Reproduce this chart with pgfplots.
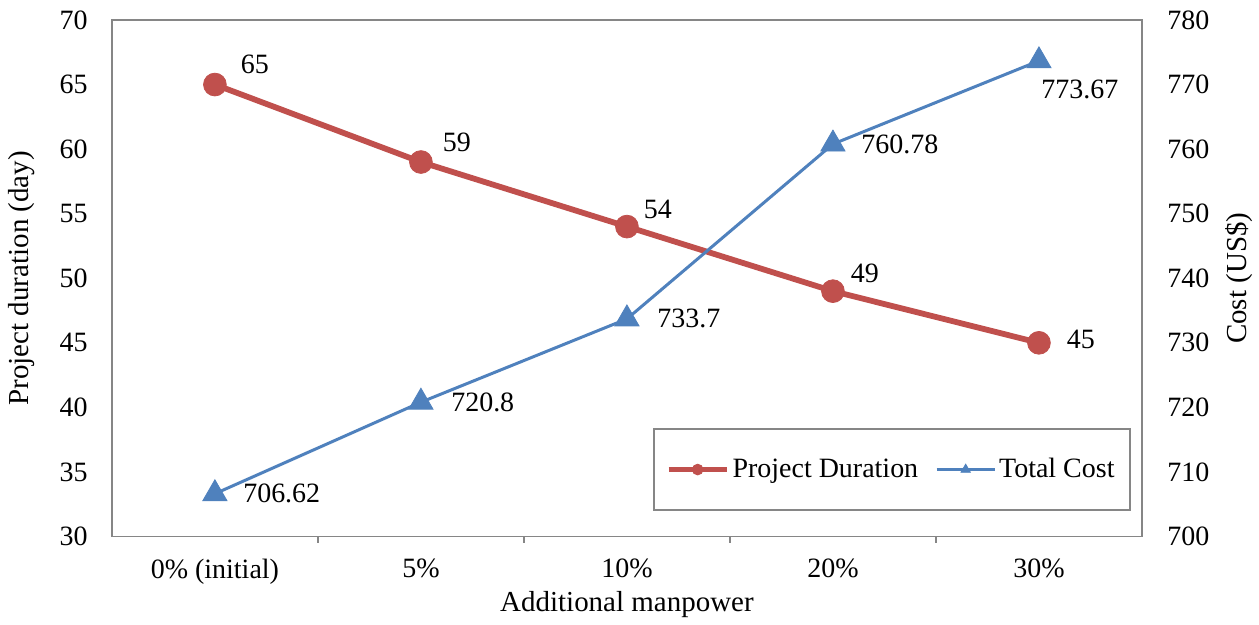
\documentclass[border=0pt]{standalone}
\usepackage{pgfplots}
\usepackage{pgfplotstable}
\usepackage{fontspec}
\setmainfont{Liberation Serif}
\pgfplotsset{compat=1.18}
\definecolor{dur}{RGB}{192,80,77}
\definecolor{cost}{RGB}{79,129,189}
\definecolor{axgray}{RGB}{134,134,134}

\pgfplotstableread{
x y lab dx dy
0 65 65 20 10
1 59 59 18 10
2 54 54 15.5 8.5
3 49 49 16 9
4 45 45 21 1.5
}\durtab

\pgfplotstableread{
x y lab dx dy
0 706.62 706.62 14 0
1 720.8 720.8 15 0
2 733.7 733.7 15 0
3 760.78 760.78 14 0
4 773.67 773.67 1 -14.5
}\costtab

\pgfplotsset{
  myax/.style={scale only axis, width=515.5pt, height=258.5pt,
    xmin=-0.5, xmax=4.5, at={(0,0)}, anchor=south west,
    /pgf/number format/assume math mode=true,
    axis line style={axgray, line width=0.8pt},
    every tick/.style={axgray, line width=0.8pt},
    major tick length=0pt,
    tick label style={font=\fontsize{14}{16}\selectfont, text=black},
    label style={font=\fontsize{14.5}{17}\selectfont, text=black},
  },
}

\begin{document}
\begin{tikzpicture}
\begin{axis}[myax,
  ymin=30, ymax=70, ytick={30,35,...,70},
  xtick={0,...,4}, xticklabels={0\% (initial),5\%,10\%,20\%,30\%},
  minor xtick={0.5,1.5,2.5,3.5},
  minor tick length=3pt, tick align=outside, xtick pos=left, ytick pos=left,
  xticklabel style={inner sep=0pt, yshift=-11pt, anchor=north},
  yticklabel style={inner sep=0pt, xshift=-12pt, anchor=east},
  xlabel={Additional manpower}, ylabel={Project duration (day)},
  xlabel style={at={(axis description cs:0.5,-0.1315)}, anchor=center},
  ylabel style={at={(axis description cs:-0.0873,0.5)}, anchor=center},
]
\addplot[dur, line width=2.9pt, mark=*, mark size=5.7pt,
  mark options={solid, fill=dur, draw=dur, line width=0.4pt},
  nodes near coords, point meta=explicit symbolic,
  visualization depends on={\thisrow{dx}\as\dx},
  visualization depends on={\thisrow{dy}\as\dy},
  every node near coord/.append style={anchor=center, xshift=\dx, yshift=\dy,
      text=black, font=\fontsize{14}{16}\selectfont, inner sep=0pt}]
  table[x=x, y=y, meta=lab]{\durtab};
\end{axis}
\begin{axis}[myax,
  axis x line=none, axis y line*=right,
  ymin=700, ymax=780, ytick={700,710,...,780},
  yticklabel style={inner sep=0pt, xshift=12.5pt, anchor=west},
  ylabel={Cost (US\$)},
  ylabel style={at={(axis description cs:1.094,0.5)}, anchor=center},
  legend columns=2,
  legend style={at={(axis description cs:0.757,0.1296)}, anchor=center,
    draw=axgray, line width=1pt, fill=white,
    inner xsep=6pt, inner ysep=12.5pt,
    font=\fontsize{14}{16}\selectfont,
    nodes={inner xsep=1.5pt, inner ysep=2pt},
    /tikz/every even column/.append style={column sep=7pt},
    cells={anchor=west}},
  legend image code/.code={\draw[mark repeat=2, mark phase=2, #1, mark size=2.7pt]
     plot coordinates {(0pt,0pt) (14.5pt,0pt) (29pt,0pt)};},
]
\addlegendimage{dur, line width=2.9pt, mark=*, mark options={solid, fill=dur, draw=dur, line width=0.4pt}}
\addlegendentry{Project Duration}
\addplot[cost, line width=1.5pt, mark=triangle*, mark size=7pt,
  mark options={solid, fill=cost, draw=cost, line width=0.4pt},
  nodes near coords, point meta=explicit symbolic,
  visualization depends on={\thisrow{dx}\as\dx},
  visualization depends on={\thisrow{dy}\as\dy},
  every node near coord/.append style={anchor=west, xshift=\dx, yshift=\dy,
      text=black, font=\fontsize{14}{16}\selectfont, inner sep=0pt}]
  table[x=x, y=y, meta=lab]{\costtab};
\addlegendentry{Total Cost}
\end{axis}
\path (-56pt,-44pt) rectangle (573.5pt,268.5pt);
\end{tikzpicture}
\end{document}
